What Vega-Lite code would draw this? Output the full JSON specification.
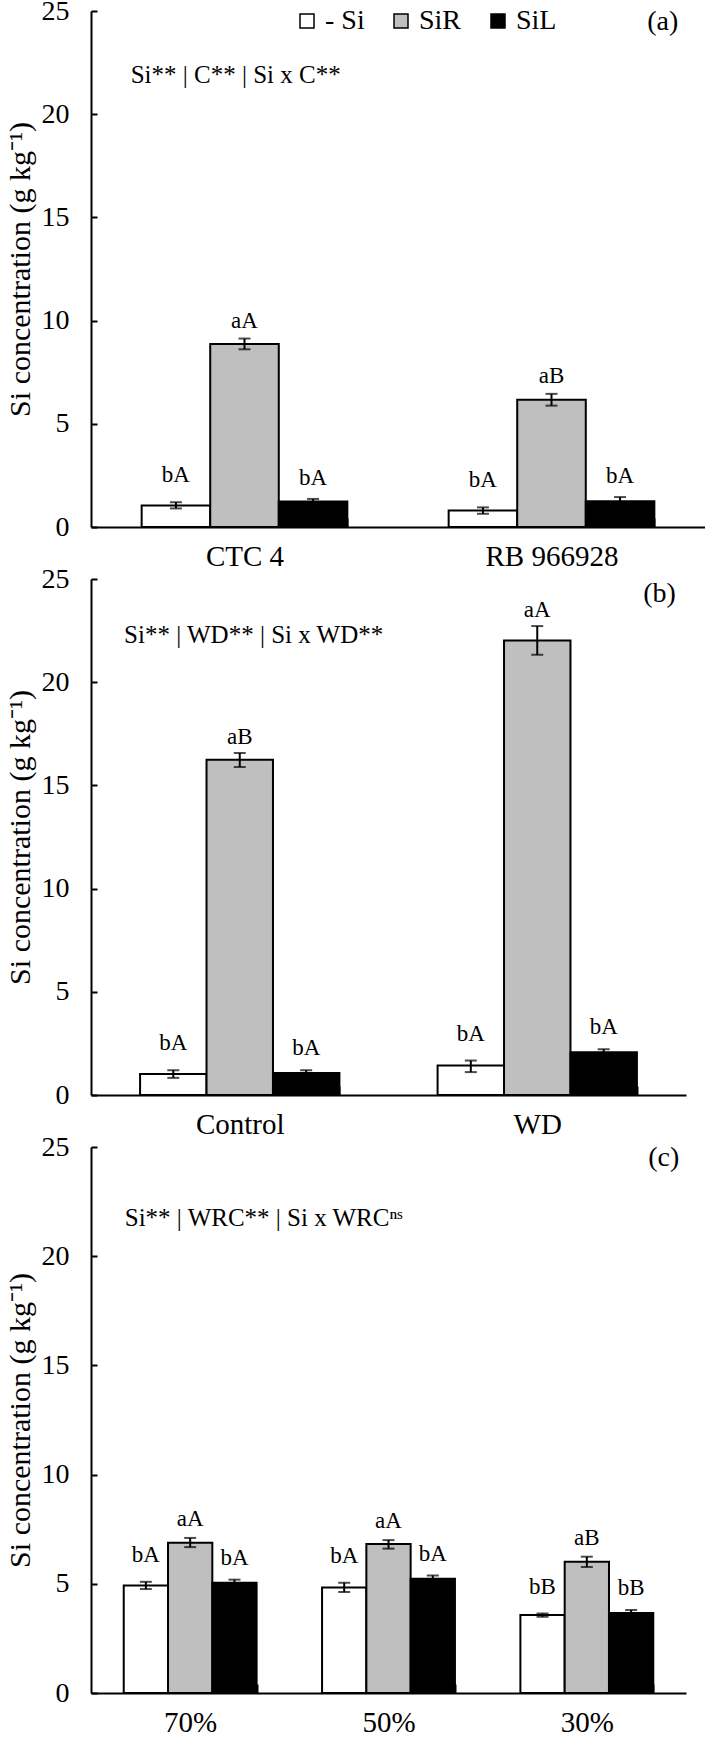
{
  "$schema": "https://vega.github.io/schema/vega-lite/v6.json",
  "background": "white",
  "padding": {"left": 5, "top": -3, "right": 0, "bottom": 0},
  "bounds": "flush",
  "spacing": 52,
  "resolve": {"scale": {"xOffset": "independent", "x": "independent", "y": "independent"}},
  "config": {
    "view": {"stroke": null},
    "font": "Liberation Serif",
    "text": {"font": "Liberation Serif", "color": "black"},
    "axis": {"labelFont": "Liberation Serif", "titleFont": "Liberation Serif", "labelColor": "black", "titleColor": "black", "domainColor": "black", "tickColor": "black", "domainWidth": 2, "tickWidth": 2, "grid": false, "titleFontWeight": "normal"},
    "legend": {"labelFont": "Liberation Serif", "labelColor": "black"}
  },
  "datasets": {
    "a": [
      {"group": "CTC 4", "trt": "- Si", "mean": 1.04, "lo": 0.90, "hi": 1.20, "sig": "bA"},
      {"group": "CTC 4", "trt": "SiR", "mean": 8.87, "lo": 8.61, "hi": 9.13, "sig": "aA"},
      {"group": "CTC 4", "trt": "SiL", "mean": 1.24, "lo": 1.12, "hi": 1.36, "sig": "bA"},
      {"group": "RB 966928", "trt": "- Si", "mean": 0.80, "lo": 0.64, "hi": 0.95, "sig": "bA"},
      {"group": "RB 966928", "trt": "SiR", "mean": 6.16, "lo": 5.88, "hi": 6.45, "sig": "aB"},
      {"group": "RB 966928", "trt": "SiL", "mean": 1.25, "lo": 1.05, "hi": 1.45, "sig": "bA"}
    ],
    "b": [
      {"group": "Control", "trt": "- Si", "mean": 1.02, "lo": 0.83, "hi": 1.20, "sig": "bA"},
      {"group": "Control", "trt": "SiR", "mean": 16.24, "lo": 15.89, "hi": 16.57, "sig": "aB"},
      {"group": "Control", "trt": "SiL", "mean": 1.06, "lo": 0.93, "hi": 1.20, "sig": "bA"},
      {"group": "WD", "trt": "- Si", "mean": 1.43, "lo": 1.11, "hi": 1.67, "sig": "bA"},
      {"group": "WD", "trt": "SiR", "mean": 22.02, "lo": 21.33, "hi": 22.72, "sig": "aA"},
      {"group": "WD", "trt": "SiL", "mean": 2.07, "lo": 1.94, "hi": 2.22, "sig": "bA"}
    ],
    "c": [
      {"group": "70%", "trt": "- Si", "mean": 4.92, "lo": 4.76, "hi": 5.09, "sig": "bA"},
      {"group": "70%", "trt": "SiR", "mean": 6.88, "lo": 6.68, "hi": 7.10, "sig": "aA"},
      {"group": "70%", "trt": "SiL", "mean": 5.05, "lo": 4.92, "hi": 5.19, "sig": "bA"},
      {"group": "50%", "trt": "- Si", "mean": 4.83, "lo": 4.62, "hi": 5.05, "sig": "bA"},
      {"group": "50%", "trt": "SiR", "mean": 6.82, "lo": 6.61, "hi": 7.00, "sig": "aA"},
      {"group": "50%", "trt": "SiL", "mean": 5.23, "lo": 5.10, "hi": 5.38, "sig": "bA"},
      {"group": "30%", "trt": "- Si", "mean": 3.57, "lo": 3.49, "hi": 3.64, "sig": "bB"},
      {"group": "30%", "trt": "SiR", "mean": 6.01, "lo": 5.77, "hi": 6.24, "sig": "aB"},
      {"group": "30%", "trt": "SiL", "mean": 3.66, "lo": 3.52, "hi": 3.80, "sig": "bB"}
    ]
  },
  "vconcat": [
    {
      "width": 614, "height": 516,
      "data": {"name": "a"},
      "layer": [
        {
          "mark": {"type": "bar", "stroke": "black", "strokeWidth": 2},
          "encoding": {
            "x": {"field": "group", "type": "nominal", "sort": null, "title": null, "scale": {"paddingInner": 0.33, "paddingOuter": 0.165},
                  "axis": {"tickBand": "extent", "tickSize": -9, "labelAngle": 0, "labelFontSize": 29, "labelBaseline": "middle", "labelPadding": 38}},
            "xOffset": {"field": "trt", "type": "nominal", "sort": ["- Si", "SiR", "SiL"]},
            "y": {"field": "mean", "type": "quantitative", "title": "Si concentration (g kg⁻¹)", "scale": {"domain": [0, 25], "nice": false},
                  "axis": {"values": [0, 5, 10, 15, 20, 25], "tickSize": -6, "labelFontSize": 28, "labelPadding": 28, "titleFontSize": 30, "titlePadding": 6}},
            "fill": {"field": "trt", "type": "nominal", "sort": ["- Si", "SiR", "SiL"],
                     "scale": {"domain": ["- Si", "SiR", "SiL"], "range": ["#ffffff", "#bfbfbf", "#000000"]},
                     "legend": {"orient": "none", "legendX": 202, "legendY": -4, "direction": "horizontal", "title": null, "symbolType": "square", "symbolSize": 196, "symbolStrokeColor": "black", "symbolStrokeWidth": 1.5, "labelFontSize": 28, "columnPadding": 22, "labelOffset": 4}}
          }
        },
        {
          "mark": {"type": "rule", "strokeWidth": 2, "color": "black"},
          "encoding": {
            "x": {"field": "group", "type": "nominal", "sort": null, "title": null},
            "xOffset": {"field": "trt", "type": "nominal", "sort": ["- Si", "SiR", "SiL"]},
            "y": {"field": "lo", "type": "quantitative", "title": "Si concentration (g kg⁻¹)"},
            "y2": {"field": "hi"}
          }
        },
        {
          "mark": {"type": "tick", "size": 12, "thickness": 2, "color": "black"},
          "encoding": {
            "x": {"field": "group", "type": "nominal", "sort": null, "title": null},
            "xOffset": {"field": "trt", "type": "nominal", "sort": ["- Si", "SiR", "SiL"]},
            "y": {"field": "lo", "type": "quantitative", "title": "Si concentration (g kg⁻¹)"}
          }
        },
        {
          "mark": {"type": "tick", "size": 12, "thickness": 2, "color": "black"},
          "encoding": {
            "x": {"field": "group", "type": "nominal", "sort": null, "title": null},
            "xOffset": {"field": "trt", "type": "nominal", "sort": ["- Si", "SiR", "SiL"]},
            "y": {"field": "hi", "type": "quantitative", "title": "Si concentration (g kg⁻¹)"}
          }
        },
        {
          "transform": [{"filter": "datum.trt === '- Si'"}],
          "mark": {"type": "text", "dy": -27, "baseline": "middle", "fontSize": 23},
          "encoding": {
            "x": {"field": "group", "type": "nominal", "sort": null, "title": null},
            "xOffset": {"field": "trt", "type": "nominal", "sort": ["- Si", "SiR", "SiL"]},
            "y": {"field": "hi", "type": "quantitative", "title": "Si concentration (g kg⁻¹)"},
            "text": {"field": "sig"}
          }
        },
        {
          "transform": [{"filter": "datum.trt === 'SiR'"}],
          "mark": {"type": "text", "dy": -18, "baseline": "middle", "fontSize": 23},
          "encoding": {
            "x": {"field": "group", "type": "nominal", "sort": null, "title": null},
            "xOffset": {"field": "trt", "type": "nominal", "sort": ["- Si", "SiR", "SiL"]},
            "y": {"field": "hi", "type": "quantitative", "title": "Si concentration (g kg⁻¹)"},
            "text": {"field": "sig"}
          }
        },
        {
          "transform": [{"filter": "datum.trt === 'SiL'"}],
          "mark": {"type": "text", "dy": -21, "baseline": "middle", "fontSize": 23},
          "encoding": {
            "x": {"field": "group", "type": "nominal", "sort": null, "title": null},
            "xOffset": {"field": "trt", "type": "nominal", "sort": ["- Si", "SiR", "SiL"]},
            "y": {"field": "hi", "type": "quantitative", "title": "Si concentration (g kg⁻¹)"},
            "text": {"field": "sig"}
          }
        },
        {
          "data": {"values": [{"note": "Si** | C** | Si x C**"}]},
          "mark": {"type": "text", "align": "left", "baseline": "middle", "fontSize": 25, "dx": -11},
          "encoding": {
            "x": {"datum": "CTC 4", "bandPosition": 0},
            "y": {"datum": 21.9},
            "text": {"field": "note"}
          }
        },
        {
          "data": {"values": [{"note": "(a)"}]},
          "mark": {"type": "text", "align": "right", "baseline": "middle", "fontSize": 28, "dx": 24},
          "encoding": {
            "x": {"datum": "RB 966928", "bandPosition": 1},
            "y": {"datum": 24.45},
            "text": {"field": "note"}
          }
        }
      ]
    },
    {
      "width": 595, "height": 516,
      "data": {"name": "b"},
      "layer": [
        {
          "mark": {"type": "bar", "stroke": "black", "strokeWidth": 2},
          "encoding": {
            "x": {"field": "group", "type": "nominal", "sort": null, "title": null, "scale": {"paddingInner": 0.33, "paddingOuter": 0.165},
                  "axis": {"tickBand": "extent", "tickSize": -9, "labelAngle": 0, "labelFontSize": 29, "labelBaseline": "middle", "labelPadding": 38}},
            "xOffset": {"field": "trt", "type": "nominal", "sort": ["- Si", "SiR", "SiL"]},
            "y": {"field": "mean", "type": "quantitative", "title": "Si concentration (g kg⁻¹)", "scale": {"domain": [0, 25], "nice": false},
                  "axis": {"values": [0, 5, 10, 15, 20, 25], "tickSize": -6, "labelFontSize": 28, "labelPadding": 28, "titleFontSize": 30, "titlePadding": 6}},
            "fill": {"field": "trt", "type": "nominal", "sort": ["- Si", "SiR", "SiL"],
                     "scale": {"domain": ["- Si", "SiR", "SiL"], "range": ["#ffffff", "#bfbfbf", "#000000"]},
                     "legend": null}
          }
        },
        {
          "mark": {"type": "rule", "strokeWidth": 2, "color": "black"},
          "encoding": {
            "x": {"field": "group", "type": "nominal", "sort": null, "title": null},
            "xOffset": {"field": "trt", "type": "nominal", "sort": ["- Si", "SiR", "SiL"]},
            "y": {"field": "lo", "type": "quantitative", "title": "Si concentration (g kg⁻¹)"},
            "y2": {"field": "hi"}
          }
        },
        {
          "mark": {"type": "tick", "size": 12, "thickness": 2, "color": "black"},
          "encoding": {
            "x": {"field": "group", "type": "nominal", "sort": null, "title": null},
            "xOffset": {"field": "trt", "type": "nominal", "sort": ["- Si", "SiR", "SiL"]},
            "y": {"field": "lo", "type": "quantitative", "title": "Si concentration (g kg⁻¹)"}
          }
        },
        {
          "mark": {"type": "tick", "size": 12, "thickness": 2, "color": "black"},
          "encoding": {
            "x": {"field": "group", "type": "nominal", "sort": null, "title": null},
            "xOffset": {"field": "trt", "type": "nominal", "sort": ["- Si", "SiR", "SiL"]},
            "y": {"field": "hi", "type": "quantitative", "title": "Si concentration (g kg⁻¹)"}
          }
        },
        {
          "transform": [{"filter": "datum.trt === '- Si'"}],
          "mark": {"type": "text", "dy": -27, "baseline": "middle", "fontSize": 23},
          "encoding": {
            "x": {"field": "group", "type": "nominal", "sort": null, "title": null},
            "xOffset": {"field": "trt", "type": "nominal", "sort": ["- Si", "SiR", "SiL"]},
            "y": {"field": "hi", "type": "quantitative", "title": "Si concentration (g kg⁻¹)"},
            "text": {"field": "sig"}
          }
        },
        {
          "transform": [{"filter": "datum.trt === 'SiR'"}],
          "mark": {"type": "text", "dy": -16, "baseline": "middle", "fontSize": 23},
          "encoding": {
            "x": {"field": "group", "type": "nominal", "sort": null, "title": null},
            "xOffset": {"field": "trt", "type": "nominal", "sort": ["- Si", "SiR", "SiL"]},
            "y": {"field": "hi", "type": "quantitative", "title": "Si concentration (g kg⁻¹)"},
            "text": {"field": "sig"}
          }
        },
        {
          "transform": [{"filter": "datum.trt === 'SiL'"}],
          "mark": {"type": "text", "dy": -22, "baseline": "middle", "fontSize": 23},
          "encoding": {
            "x": {"field": "group", "type": "nominal", "sort": null, "title": null},
            "xOffset": {"field": "trt", "type": "nominal", "sort": ["- Si", "SiR", "SiL"]},
            "y": {"field": "hi", "type": "quantitative", "title": "Si concentration (g kg⁻¹)"},
            "text": {"field": "sig"}
          }
        },
        {
          "data": {"values": [{"note": "Si** | WD** | Si x WD**"}]},
          "mark": {"type": "text", "align": "left", "baseline": "middle", "fontSize": 25, "dx": -16},
          "encoding": {
            "x": {"datum": "Control", "bandPosition": 0},
            "y": {"datum": 22.3},
            "text": {"field": "note"}
          }
        },
        {
          "data": {"values": [{"note": "(b)"}]},
          "mark": {"type": "text", "align": "right", "baseline": "middle", "fontSize": 28, "dx": 39},
          "encoding": {
            "x": {"datum": "WD", "bandPosition": 1},
            "y": {"datum": 24.25},
            "text": {"field": "note"}
          }
        }
      ]
    },
    {
      "width": 595, "height": 546,
      "data": {"name": "c"},
      "layer": [
        {
          "mark": {"type": "bar", "stroke": "black", "strokeWidth": 2},
          "encoding": {
            "x": {"field": "group", "type": "nominal", "sort": null, "title": null, "scale": {"paddingInner": 0.33, "paddingOuter": 0.165},
                  "axis": {"tickBand": "extent", "tickSize": -9, "labelAngle": 0, "labelFontSize": 29, "labelBaseline": "middle", "labelPadding": 38}},
            "xOffset": {"field": "trt", "type": "nominal", "sort": ["- Si", "SiR", "SiL"]},
            "y": {"field": "mean", "type": "quantitative", "title": "Si concentration (g kg⁻¹)", "scale": {"domain": [0, 25], "nice": false},
                  "axis": {"values": [0, 5, 10, 15, 20, 25], "tickSize": -6, "labelFontSize": 28, "labelPadding": 28, "titleFontSize": 30, "titlePadding": 6}},
            "fill": {"field": "trt", "type": "nominal", "sort": ["- Si", "SiR", "SiL"],
                     "scale": {"domain": ["- Si", "SiR", "SiL"], "range": ["#ffffff", "#bfbfbf", "#000000"]},
                     "legend": null}
          }
        },
        {
          "mark": {"type": "rule", "strokeWidth": 2, "color": "black"},
          "encoding": {
            "x": {"field": "group", "type": "nominal", "sort": null, "title": null},
            "xOffset": {"field": "trt", "type": "nominal", "sort": ["- Si", "SiR", "SiL"]},
            "y": {"field": "lo", "type": "quantitative", "title": "Si concentration (g kg⁻¹)"},
            "y2": {"field": "hi"}
          }
        },
        {
          "mark": {"type": "tick", "size": 12, "thickness": 2, "color": "black"},
          "encoding": {
            "x": {"field": "group", "type": "nominal", "sort": null, "title": null},
            "xOffset": {"field": "trt", "type": "nominal", "sort": ["- Si", "SiR", "SiL"]},
            "y": {"field": "lo", "type": "quantitative", "title": "Si concentration (g kg⁻¹)"}
          }
        },
        {
          "mark": {"type": "tick", "size": 12, "thickness": 2, "color": "black"},
          "encoding": {
            "x": {"field": "group", "type": "nominal", "sort": null, "title": null},
            "xOffset": {"field": "trt", "type": "nominal", "sort": ["- Si", "SiR", "SiL"]},
            "y": {"field": "hi", "type": "quantitative", "title": "Si concentration (g kg⁻¹)"}
          }
        },
        {
          "transform": [{"filter": "datum.trt === '- Si'"}],
          "mark": {"type": "text", "dy": -27, "baseline": "middle", "fontSize": 23},
          "encoding": {
            "x": {"field": "group", "type": "nominal", "sort": null, "title": null},
            "xOffset": {"field": "trt", "type": "nominal", "sort": ["- Si", "SiR", "SiL"]},
            "y": {"field": "hi", "type": "quantitative", "title": "Si concentration (g kg⁻¹)"},
            "text": {"field": "sig"}
          }
        },
        {
          "transform": [{"filter": "datum.trt === 'SiR'"}],
          "mark": {"type": "text", "dy": -19, "baseline": "middle", "fontSize": 23},
          "encoding": {
            "x": {"field": "group", "type": "nominal", "sort": null, "title": null},
            "xOffset": {"field": "trt", "type": "nominal", "sort": ["- Si", "SiR", "SiL"]},
            "y": {"field": "hi", "type": "quantitative", "title": "Si concentration (g kg⁻¹)"},
            "text": {"field": "sig"}
          }
        },
        {
          "transform": [{"filter": "datum.trt === 'SiL'"}],
          "mark": {"type": "text", "dy": -22, "baseline": "middle", "fontSize": 23},
          "encoding": {
            "x": {"field": "group", "type": "nominal", "sort": null, "title": null},
            "xOffset": {"field": "trt", "type": "nominal", "sort": ["- Si", "SiR", "SiL"]},
            "y": {"field": "hi", "type": "quantitative", "title": "Si concentration (g kg⁻¹)"},
            "text": {"field": "sig"}
          }
        },
        {
          "data": {"values": [{"note": "Si** | WRC** | Si x WRCⁿˢ"}]},
          "mark": {"type": "text", "align": "left", "baseline": "middle", "fontSize": 25, "dx": 1},
          "encoding": {
            "x": {"datum": "70%", "bandPosition": 0},
            "y": {"datum": 21.75},
            "text": {"field": "note"}
          }
        },
        {
          "data": {"values": [{"note": "(c)"}]},
          "mark": {"type": "text", "align": "right", "baseline": "middle", "fontSize": 28, "dx": 26},
          "encoding": {
            "x": {"datum": "30%", "bandPosition": 1},
            "y": {"datum": 24.5},
            "text": {"field": "note"}
          }
        }
      ]
    }
  ]
}
